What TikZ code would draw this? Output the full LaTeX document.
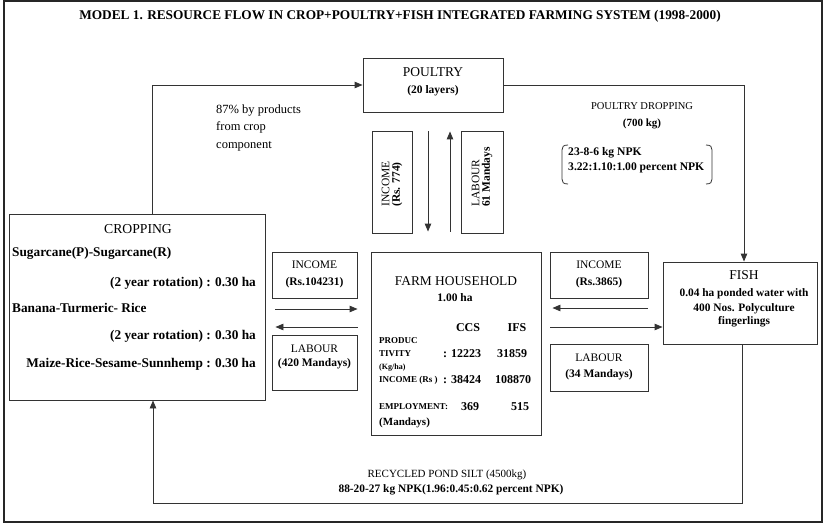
\documentclass[tikz,border=0pt]{standalone}
\usepackage{fontspec}
\setmainfont{Liberation Serif}
\usetikzlibrary{arrows.meta}
\newcommand\myfs[1]{\fontsize{#1}{#1}\selectfont}
\begin{document}
\begin{tikzpicture}[x=1pt,y=-1pt,
  line/.style={draw=black!80, line width=0.9pt},
  box/.style={line, rectangle, inner sep=0pt},
  flow/.style={line, -{Triangle[length=8pt,width=6.5pt]}},
  t/.style={inner sep=0pt, anchor=base, text=black},
  tl/.style={t, anchor=base west},
  tr/.style={t, anchor=base east},
  reg/.style={font=\myfs{#1}},
  bld/.style={font=\bfseries\myfs{#1}}]

\useasboundingbox (0,0) rectangle (825,524);
\fill[white] (0,0) rectangle (825,524);
\draw[draw=black!85, line width=1.6pt] (4,1) rectangle (822,522);

% title
\node[t, bld=13.3] (title) at (400,20)
  {MODEL 1. RESOURCE FLOW IN CROP+POULTRY+FISH INTEGRATED FARMING SYSTEM (1998-2000)};

% boxes
\node[box, minimum width=140pt, minimum height=54pt]  (poultry) at (433,85) {};
\node[box, minimum width=256pt, minimum height=186pt] (crop)    at (137,307) {};
\node[box, minimum width=85pt,  minimum height=46pt]  (incL)    at (314.5,275) {};
\node[box, minimum width=85pt,  minimum height=55pt]  (labL)    at (314.5,362.5) {};
\node[box, minimum width=170pt, minimum height=183pt] (farm)    at (456,343.5) {};
\node[box, minimum width=98pt,  minimum height=46pt]  (incR)    at (599,275) {};
\node[box, minimum width=98pt,  minimum height=47pt]  (labR)    at (599,367.5) {};
\node[box, minimum width=154pt, minimum height=82pt]  (fish)    at (740,303) {};
\node[box, minimum width=40pt,  minimum height=102pt] (incV)    at (392,182) {};
\node[box, minimum width=42pt,  minimum height=102pt] (labV)    at (482,182) {};
\coordinate (silt) at (153,503);

% poultry
\node[t, reg=13.5] (poultryA) at (433,76.5) {POULTRY};
\node[t, bld=11.5] (poultryB) at (433,93.5) {(20 layers)};

% crop by-products note
\node[tl, reg=12.5] (byA) at (216,114) {87\% by products};
\node[tl, reg=12.5] (byB) at (216,131) {from crop};
\node[tl, reg=12.5] (byC) at (216,149) {component};

% vertical income / labour labels
\node[inner sep=0pt, rotate=90, anchor=west, align=left, text=black,
      font=\myfs{11.5}] (incVT) at (392,207)
  {INCOME\\[-1pt]\textbf{(Rs. 774)}};
\node[inner sep=0pt, rotate=90, anchor=west, align=left, text=black,
      font=\myfs{11.5}] (labVT) at (482,207)
  {LABOUR\\[-1pt]\textbf{61 Mandays}};

% poultry dropping
\node[t, reg=10.5] (dropA) at (642,109.5) {POULTRY DROPPING};
\node[t, bld=11] (dropB) at (642,126.5) {(700 kg)};
\node[tl, bld=11.6] (dropC) at (568,156) {23-8-6 kg NPK};
\node[tl, bld=11.6] (dropD) at (568,171) {3.22:1.10:1.00 percent NPK};
\draw[line, line width=0.8pt] (568,145) .. controls (563,145) and (562,147) .. (562,150)
  -- (562,179) .. controls (562,182) and (563,184) .. (568,184);
\draw[line, line width=0.8pt] (706,145) .. controls (711,145) and (712,147) .. (712,150)
  -- (712,179) .. controls (712,182) and (711,184) .. (706,184);

% cropping
\node[t, reg=13.7] (cropT) at (138,233.5) {CROPPING};
\node[tl, bld=13.3] (cropA) at (12,256) {Sugarcane(P)-Sugarcane(R)};
\node[tr, bld=13.3] (cropB) at (256,286) {(2 year rotation) : 0.30 ha};
\node[tl, bld=13.3] (cropC) at (12,312) {Banana-Turmeric- Rice};
\node[tr, bld=13.3] (cropD) at (256,339) {(2 year rotation) : 0.30 ha};
\node[tr, bld=13.3] (cropE) at (256,367) {Maize-Rice-Sesame-Sunnhemp : 0.30 ha};

% left exchange boxes
\node[t, reg=11.5] (incLA) at (314.5,268) {INCOME};
\node[t, bld=11.5] (incLB) at (314.5,285) {(Rs.104231)};
\node[t, reg=11.5] (labLA) at (314.5,352) {LABOUR};
\node[t, bld=11.5] (labLB) at (314.5,366.5) {(420 Mandays)};

% right exchange boxes
\node[t, reg=11.5] (incRA) at (599,268) {INCOME};
\node[t, bld=11.5] (incRB) at (599,285) {(Rs.3865)};
\node[t, reg=11.5] (labRA) at (599,361) {LABOUR};
\node[t, bld=11.5] (labRB) at (599,377) {(34 Mandays)};

% fish
\node[t, reg=13.5] (fishA) at (744,279.5) {FISH};
\node[t, bld=11.4] (fishB) at (744,296) {0.04 ha ponded water with};
\node[t, bld=11.4] (fishC) at (744,311.5) {400 Nos. Polyculture};
\node[t, bld=11.4] (fishD) at (744,324) {fingerlings};

% farm household
\node[t, reg=13.4] (farmA) at (456,285.5) {FARM HOUSEHOLD};
\node[t, bld=11.5] (farmB) at (455,301) {1.00 ha};
\node[t, bld=12] (ccs) at (468,331) {CCS};
\node[t, bld=12] (ifs) at (517,331) {IFS};
\node[tl, bld=9] (prA) at (379,343) {PRODUC};
\node[tl, bld=9] (prB) at (379,356) {TIVITY};
\node[tl, bld=12] (prC) at (443,357) {: 12223};
\node[t, bld=12] (prD) at (512,357) {31859};
\node[tl, bld=8] (prE) at (379,369) {(Kg/ha)};
\node[tl, bld=9] (inA) at (379,382.5) {INCOME (Rs )};
\node[tl, bld=12] (inB) at (443,383) {: 38424};
\node[t, bld=12] (inC) at (513,383) {108870};
\node[tl, bld=9] (emA) at (379,409) {EMPLOYMENT:};
\node[t, bld=12] (emB) at (470,410) {369};
\node[t, bld=12] (emC) at (520,410) {515};
\node[tl, bld=11] (emD) at (379,425.5) {(Mandays)};

% recycled silt
\node[t, reg=11] (siltA) at (447,477) {RECYCLED POND SILT (4500kg)};
\node[t, bld=11.4] (siltB) at (451,492.5) {88-20-27 kg NPK(1.96:0.45:0.62 percent NPK)};

% resource flows
\draw[flow] ([xshift=15pt]crop.north) |- (poultry.west);
\draw[flow] (poultry.east) -| ([xshift=4pt]fish.north);
\draw[flow] ([xshift=2pt]fish.south) |- (silt) -- ([xshift=16pt]crop.south);

\draw[flow, shorten <=10pt, shorten >=13pt] (crop.east |- 0,309) -- (farm.west |- 0,309);
\draw[flow, shorten <=13pt, shorten >=10pt] (farm.west |- 0,327) -- (crop.east |- 0,327);
\draw[flow, shorten <=15pt, shorten >=11pt] (fish.west |- 0,308) -- (farm.east |- 0,308);
\draw[flow, shorten <=9pt] (farm.east |- 0,327) -- (fish.west |- 0,327);

\draw[flow, shorten <=19pt, shorten >=20pt] (poultry.south -| 428,0) -- (farm.north -| 428,0);
\draw[flow, shorten <=20pt, shorten >=19pt] (farm.north -| 450,0) -- (poultry.south -| 450,0);
\end{tikzpicture}
\end{document}
